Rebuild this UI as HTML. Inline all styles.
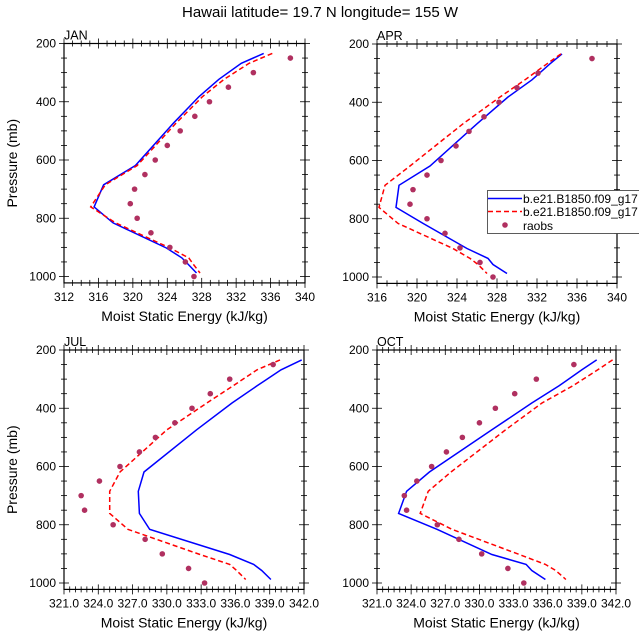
<!DOCTYPE html>
<html><head><meta charset="utf-8"><style>
body{margin:0;background:#fff}
svg{display:block;font-family:"Liberation Sans",sans-serif}
</style></head><body>
<svg id="chart" width="639" height="639" viewBox="0 0 639 639" xmlns="http://www.w3.org/2000/svg">
<text x="320" y="17" font-size="15" text-anchor="middle">Hawaii  latitude= 19.7 N longitude= 155 W</text>
<g id="panels"></g>
<g>
<rect x="487.5" y="190.5" width="160" height="43" fill="#fff" stroke="#333" stroke-width="0.8"/>
<line x1="488" y1="198.5" x2="522" y2="198.5" stroke="#0000ff" stroke-width="1.5"/>
<text x="523" y="203" font-size="12">b.e21.B1850.f09_g17</text>
<line x1="488" y1="211.5" x2="522" y2="211.5" stroke="#ff0000" stroke-width="1.5" stroke-dasharray="5,3"/>
<text x="523" y="216" font-size="12">b.e21.B1850.f09_g17</text>
<circle cx="505" cy="225" r="2.8" fill="#b03060"/>
<text x="523" y="230" font-size="12">raobs</text>
</g>
</svg>
<script>
const modelLevels=[234,268,323,382,474,619,685,761,816,902,936,957,988];
const obsLevels=[250,300,350,400,450,500,550,600,650,700,750,800,850,900,950,1000];
const panelNames=["JAN","APR","JUL","OCT"];
const janBlue=[335.2,332.6,330.0,327.7,324.7,320.3,316.6,315.5,317.7,323.9,325.7,326.4,327.4];
const janRed=[336.2,333.5,330.6,328.1,325.0,320.5,316.8,315.1,318.0,324.3,326.5,327.0,327.8];
const janObs=[338.3,334.0,331.1,328.9,327.2,325.5,324.0,322.6,321.4,320.2,319.7,320.5,322.1,324.3,326.1,327.1];
const aprBlue=[334.5,333.3,331.5,329.1,326.0,321.3,318.2,317.9,320.6,325.0,327.1,327.6,329.0];
const aprRed=[334.4,333.0,330.8,328.3,324.6,319.3,316.8,316.2,318.1,323.6,325.3,326.1,327.0];
const aprObs=[337.5,332.1,330.0,328.2,326.7,325.2,323.9,322.4,321.0,319.6,319.3,321.0,322.8,324.3,326.3,327.6];
const julBlue=[341.8,340.0,337.9,335.7,332.6,328.0,327.5,327.6,328.5,335.5,337.6,338.3,339.1];
const julRed=[339.9,337.9,335.8,333.5,330.0,325.9,325.0,325.0,326.6,332.9,335.5,336.1,336.9];
const julObs=[339.3,335.5,333.8,332.2,330.7,329.0,327.6,325.9,324.1,322.5,322.8,325.3,328.1,329.6,331.9,333.3];
const octBlue=[340.3,339.0,337.0,334.6,331.1,325.6,323.6,322.9,326.3,331.1,334.1,334.6,335.8];
const octRed=[341.7,340.4,338.2,335.5,332.3,327.5,325.5,324.8,327.6,333.5,335.8,336.7,337.6];
const octObs=[338.3,335.0,333.1,331.4,330.0,328.5,327.1,325.8,324.5,323.4,323.6,326.3,328.2,330.2,332.5,333.9];
const xTicksTop=[312,316,320,324,328,332,336,340];
const xTicksApr=[316,320,324,328,332,336,340];
const xTicksBot=[321,324,327,330,333,336,339,342];
const yTicks=[200,400,600,800,1000];

const NS="http://www.w3.org/2000/svg";
const root=document.getElementById('panels');
function mk(tag,attrs,parent){const e=document.createElementNS(NS,tag);for(const k in attrs)e.setAttribute(k,attrs[k]);parent.appendChild(e);return e;}

function panel(name,L,R,T,xmin,xmax,xt,minorStep,dec,blue,red,obs,showY){
  const g=mk('g',{},root);
  
  
  const p200=T, p1000=T+233;
  const ys=p=>p200+(p-200)*(p1000-p200)/800;
  const xs=v=>L+(v-xmin)*(R-L)/(xmax-xmin);
  const B=ys(1022);
  const box=mk('rect',{x:L,y:T,width:R-L,height:B-T,fill:'none',stroke:'#000','stroke-width':1.2},g);
  
  
  for(let v=xmin;v<=xmax+1e-6;v+=minorStep){
    const x=xs(v);const major=xt.some(t=>Math.abs(t-v)<1e-6);const len=major?5:3;
    mk('line',{x1:x,y1:B,x2:x,y2:B+len,stroke:'#000','stroke-width':0.8},g);
    mk('line',{x1:x,y1:B,x2:x,y2:B-len,stroke:'#000','stroke-width':0.8},g);
    mk('line',{x1:x,y1:T,x2:x,y2:T-len,stroke:'#000','stroke-width':0.8},g);
    mk('line',{x1:x,y1:T,x2:x,y2:T+len,stroke:'#000','stroke-width':0.8},g);
  }
  xt.forEach(v=>{const t=mk('text',{x:xs(v),y:B+18,'font-size':12,'text-anchor':'middle'},g);t.textContent=v.toFixed(dec);
    
    });
  for(let p=200;p<=1000;p+=50){
    const y=ys(p);const major=p%200===0;const len=major?5:3;
    [[L,-1],[R,1]].forEach(([x0,d])=>{
      mk('line',{x1:x0,y1:y,x2:x0+d*len,y2:y,stroke:'#000','stroke-width':0.8},g);
      mk('line',{x1:x0,y1:y,x2:x0-d*len,y2:y,stroke:'#000','stroke-width':0.8},g);
    });
  }
  yTicks.forEach(p=>{const t=mk('text',{x:L-8,y:ys(p)+4,'font-size':12,'text-anchor':'end'},g);t.textContent=p;
    
    });
  const lab=mk('text',{x:L,y:T-4,'font-size':12.5},g);lab.textContent=name;
  
  
  const xt2=mk('text',{x:(L+R)/2,y:B+38,'font-size':14,'text-anchor':'middle'},g);xt2.textContent='Moist Static Energy (kJ/kg)';
  
  
  if(showY){const yt=mk('text',{x:0,y:0,'font-size':14,'text-anchor':'middle',transform:`translate(17,${(T+B)/2}) rotate(-90)`},g);yt.textContent='Pressure (mb)';
    
    }
  const pts=a=>a.map((v,i)=>xs(v).toFixed(1)+','+ys(modelLevels[i]).toFixed(1)).join(' ');
  const bl=mk('polyline',{points:pts(blue),fill:'none',stroke:'#0000ff','stroke-width':1.5},g);
  
  
  const rl=mk('polyline',{points:pts(red),fill:'none',stroke:'#ff0000','stroke-width':1.5,'stroke-dasharray':'5,3'},g);
  
  
  obs.forEach((v,i)=>{const c=mk('circle',{cx:xs(v),cy:ys(obsLevels[i]),r:2.8,fill:'#b03060'},g);
    
    });
}
panel("JAN",64,305,43.5,312,340,xTicksTop,1,0,janBlue,janRed,janObs,true);
panel("APR",377,617,44,316,340,xTicksApr,1,0,aprBlue,aprRed,aprObs,false);
panel("JUL",64,304,350,321,342,xTicksBot,0.5,1,julBlue,julRed,julObs,true);
panel("OCT",377,616,350,321,342,xTicksBot,0.5,1,octBlue,octRed,octObs,false);
</script>
</body></html>
